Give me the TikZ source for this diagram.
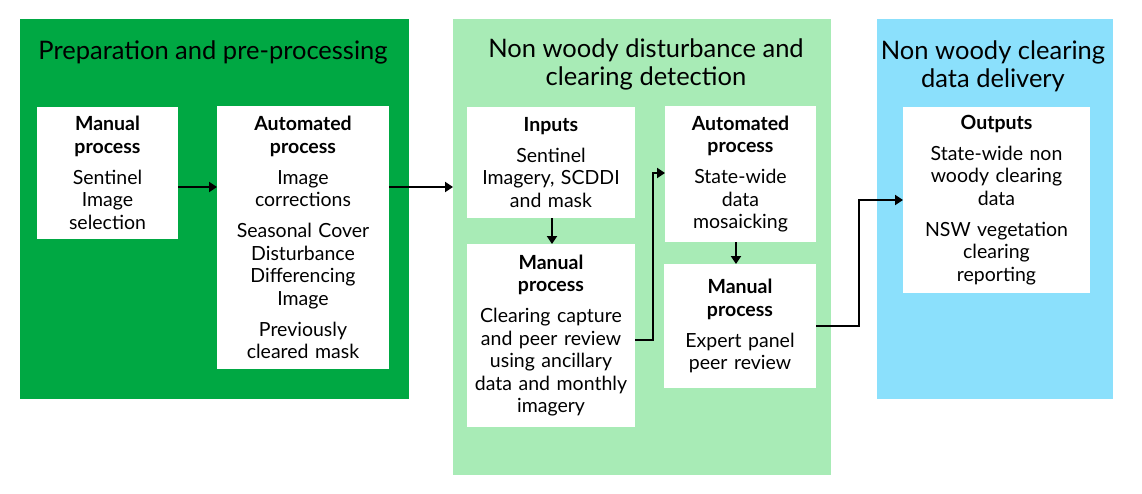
\documentclass[tikz,border=0pt]{standalone}
\usepackage{fontspec}
\setmainfont{Lato}
\usetikzlibrary{arrows.meta}
\definecolor{dkgreen}{HTML}{00A843}
\definecolor{ltgreen}{HTML}{A8EBB6}
\definecolor{ltblue}{HTML}{8BE0FC}
\begin{document}
\begin{tikzpicture}[x=1pt,y=-1pt,
  panel/.style={anchor=north west, inner sep=0pt, outer sep=0pt},
  wbox/.style={fill=white, anchor=north west, inner sep=0pt, outer sep=0pt, align=center,
    font=\fontsize{19.5}{22.5}\selectfont},
  ttl/.style={font=\fontsize{25.5}{28}\selectfont, align=center, inner sep=0pt, anchor=north},
  arr/.style={line width=2.8pt, -{Triangle[length=8pt,width=10pt]}}]
\useasboundingbox (0,0) rectangle (1142,493);
% panels
\node[panel, fill=dkgreen, minimum width=389pt, minimum height=380pt] (p1) at (20,19) {};
\node[panel, fill=ltgreen, minimum width=378pt, minimum height=456pt] (p2) at (453,19) {};
\node[panel, fill=ltblue, minimum width=236pt, minimum height=380pt] (p3) at (877,19) {};
% titles
\node[ttl] (t1) at (213,40.5) {Preparation and pre-processing};
\node[ttl] (t2) at (646,38.5) {Non woody disturbance and\\clearing detection};
\node[ttl] (t3) at (993,40.5) {Non woody clearing\\data delivery};
% boxes
\node[wbox, minimum width=141pt, minimum height=132pt, text width=137pt] (m1) at (37,107)
  {\textbf{Manual}\\\textbf{process}\\[8.5pt]Sentinel\\Image\\selection};
\node[wbox, minimum width=172pt, minimum height=263pt, text width=168pt] (a1) at (217,106)
  {\textbf{Automated}\\\textbf{process}\\[8.5pt]Image\\corrections\\[8.5pt]Seasonal Cover\\Disturbance\\Differencing\\Image\\[8.5pt]Previously\\cleared mask};
\node[wbox, minimum width=168pt, minimum height=111pt, text width=164pt] (in) at (467,107)
  {\textbf{Inputs}\\[8.5pt]Sentinel\\Imagery, SCDDI\\and mask};
\node[wbox, minimum width=168pt, minimum height=183pt, text width=164pt] (m2) at (467,244)
  {\textbf{Manual}\\\textbf{process}\\[8.5pt]Clearing capture\\and peer review\\using ancillary\\data and monthly\\imagery};
\node[wbox, minimum width=151pt, minimum height=136pt, text width=147pt] (au2) at (665,106)
  {\textbf{Automated}\\\textbf{process}\\[8.5pt]State-wide\\data\\mosaicking};
\node[wbox, minimum width=152pt, minimum height=124pt, text width=148pt] (m3) at (664,264)
  {\textbf{Manual}\\\textbf{process}\\[8.5pt]Expert panel\\peer review};
\node[wbox, minimum width=187pt, minimum height=186pt, text width=183pt] (out) at (903,107)
  {\textbf{Outputs}\\[8.5pt]State-wide non\\woody clearing\\data\\[8.5pt]NSW vegetation\\clearing\\reporting};
% connector helper coordinates
\coordinate (r1) at (0,187);
\coordinate (c1) at (653,340);
\coordinate (c2) at (653,173);
\coordinate (c3) at (859,326);
\coordinate (c4) at (859,200);
\coordinate (v1) at (552,0);
\coordinate (v2) at (736,0);
% connectors
\draw[arr] (m1.east |- r1) -- (a1.west |- r1);
\draw[arr] (a1.east |- r1) -- (p2.west |- r1);
\draw[arr] (in.south -| v1) -- (m2.north -| v1);
\draw[arr] (m2.east |- c1) -- (c1) -- (c2) -- (au2.west |- c2);
\draw[arr] (au2.south -| v2) -- (m3.north -| v2);
\draw[arr] (m3.east |- c3) -- (c3) -- (c4) -- (out.west |- c4);
\end{tikzpicture}
\end{document}
